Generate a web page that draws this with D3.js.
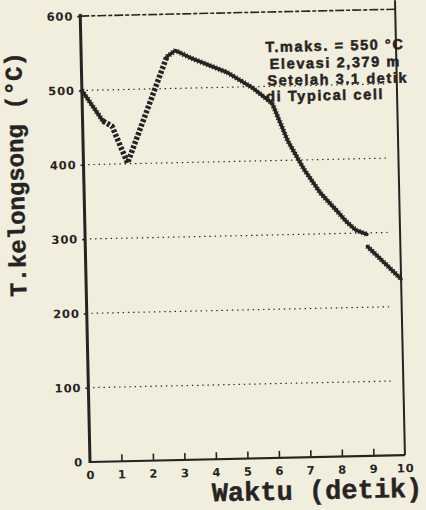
<!DOCTYPE html>
<html>
<head>
<meta charset="utf-8">
<script src="https://cdn.jsdelivr.net/npm/d3@7"></script>
<style>
  html, body { margin: 0; padding: 0; background: #f2eedd; }
  svg { display: block; }
  .tick text { font-family: "DejaVu Sans", sans-serif; font-weight: bold; font-size: 11.5px; letter-spacing: 0.9px; fill: #262422; }
  .tick line { stroke: #262422; stroke-width: 1.6; }
</style>
</head>
<body>
<div class="container"></div>
<script>
const WIDTH = 426;
const HEIGHT = 510;
const INK = "#262422";

// waktu (detik) vs suhu kelongsong (°C)
var waktu = [0, 0.65, 0.93, 1.4, 2.72, 3.0, 3.45, 4.62, 5.4, 6.03, 6.5, 7.0, 7.5, 8.0, 8.3, 8.6, 8.95];
var suhu  = [500, 458, 451, 401, 543, 551, 541, 520, 499, 477, 426, 387, 355, 331, 316, 304, 298];
// potongan setelah celah
var waktuLanjut = [8.95, 10];
var suhuLanjut  = [282, 237];

var tickX = [0, 1, 2, 3, 4, 5, 6, 7, 8, 9, 10];
var tickY = [0, 100, 200, 300, 400, 500, 600];
var gridY = [100, 200, 300, 400, 500];
var catatan = ["T.maks. = 550 °C", "Elevasi 2,379 m", "Setelah 3.1 detik", "di Typical cell"];

var svg, g, x, y;

var buatGrafik = function(){
    svg = d3.select(".container").append("svg")
        .attr("width", WIDTH)
        .attr("height", HEIGHT);

    // scan sedikit miring
    g = svg.append("g").attr("transform", "rotate(-1.25, 90, 462)");

    x = d3.scaleLinear().domain([0, 10]).range([90, 405]);
    y = d3.scaleLinear().domain([0, 600]).range([462, 16]);

    buatGrid();
    buatSumbu();
    buatKurva();
    buatCatatan();
    buatJudul();
}

var buatGrid = function(){
    g.selectAll(".grid").data(gridY).enter().append("line")
        .attr("x1", x(0.15)).attr("x2", x(9.6))
        .attr("y1", d => y(d)).attr("y2", d => y(d))
        .attr("stroke", INK).attr("stroke-width", 1.2)
        .attr("stroke-dasharray", "1.4,3.8");
}

var buatSumbu = function(){
    var ax = g.append("g").attr("transform", "translate(0," + y(0) + ")")
        .call(d3.axisBottom(x).tickValues(tickX).tickSize(-7).tickPadding(9).tickFormat(d3.format("d")));
    ax.select(".domain").remove();
    ax.selectAll(".tick").filter(d => d === 0 || d === 10).select("line").remove();

    var ay = g.append("g").attr("transform", "translate(" + x(0) + ",0)")
        .call(d3.axisLeft(y).tickValues(tickY).tickSize(3).tickPadding(4).tickFormat(d3.format("d")));
    ay.select(".domain").remove();
    ay.selectAll(".tick").filter(d => d === 0).select("line").remove();

    // bingkai
    g.append("line").attr("x1", x(0)).attr("x2", x(10)).attr("y1", y(600)).attr("y2", y(600))
        .attr("stroke", INK).attr("stroke-width", 1.6).attr("stroke-dasharray", "9,2,4,2");
    g.append("line").attr("x1", x(10)).attr("x2", x(10)).attr("y1", y(612)).attr("y2", y(0))
        .attr("stroke", INK).attr("stroke-width", 2);
    g.append("line").attr("x1", x(0)).attr("x2", x(10)).attr("y1", y(0)).attr("y2", y(0))
        .attr("stroke", INK).attr("stroke-width", 2.2);
    g.append("line").attr("x1", x(0)).attr("x2", x(0)).attr("y1", y(603)).attr("y2", y(0) + 1)
        .attr("stroke", INK).attr("stroke-width", 3);
}

var buatKurva = function(){
    var titik = waktu.map((t, i) => [t, suhu[i]]);
    var titikLanjut = waktuLanjut.map((t, i) => [t, suhuLanjut[i]]);
    var garis = d3.line().x(d => x(d[0])).y(d => y(d[1]));

    // bagian padat dan bagian segitiga
    var padat = [titik.slice(0, 2), titik.slice(4), titikLanjut];
    var segitiga = titik.slice(1, 5);

    padat.forEach(function(p){
        g.append("path").attr("d", garis(p))
            .attr("fill", "none").attr("stroke", INK).attr("stroke-width", 3.4)
            .attr("stroke-linejoin", "round").attr("stroke-linecap", "round");
        g.append("path").attr("d", garis(p))
            .attr("fill", "none").attr("stroke", INK).attr("stroke-width", 5.5)
            .attr("stroke-dasharray", "1,2.2");
    });

    g.append("path").attr("d", garis(segitiga))
        .attr("fill", "none").attr("stroke", INK).attr("stroke-width", 5.5)
        .attr("stroke-dasharray", "3,1.7");
}

var buatCatatan = function(){
    var posisi = [[344, 56, "middle"], [344, 73, "middle"], [346, 89.5, "middle"], [274, 105.5, "start"]];
    g.selectAll(".catatan").data(catatan).enter().append("text")
        .attr("x", (d, i) => posisi[i][0])
        .attr("y", (d, i) => posisi[i][1])
        .attr("text-anchor", (d, i) => posisi[i][2])
        .attr("font-family", "Liberation Sans, Arial, sans-serif")
        .attr("font-weight", "bold")
        .attr("font-size", 14.5)
        .attr("letter-spacing", 1.6)
        .attr("fill", INK)
        .attr("stroke", INK)
        .attr("stroke-width", 0.5)
        .text(d => d);
}

var buatJudul = function(){
    g.append("text")
        .attr("transform", "translate(30,173) rotate(-90)")
        .attr("text-anchor", "middle")
        .attr("font-family", "Liberation Mono, monospace")
        .attr("font-weight", "bold")
        .attr("font-size", 24)
        .attr("fill", INK)
        .attr("stroke", INK)
        .attr("stroke-width", 0.4)
        .text("T.kelongsong (°C)");

    g.append("text")
        .attr("x", 211).attr("y", 504)
        .attr("font-family", "Liberation Mono, monospace")
        .attr("font-weight", "bold")
        .attr("font-size", 27)
        .attr("fill", INK)
        .attr("stroke", INK)
        .attr("stroke-width", 0.4)
        .text("Waktu (detik)");
}

window.onload = buatGrafik;
</script>
</body>
</html>
